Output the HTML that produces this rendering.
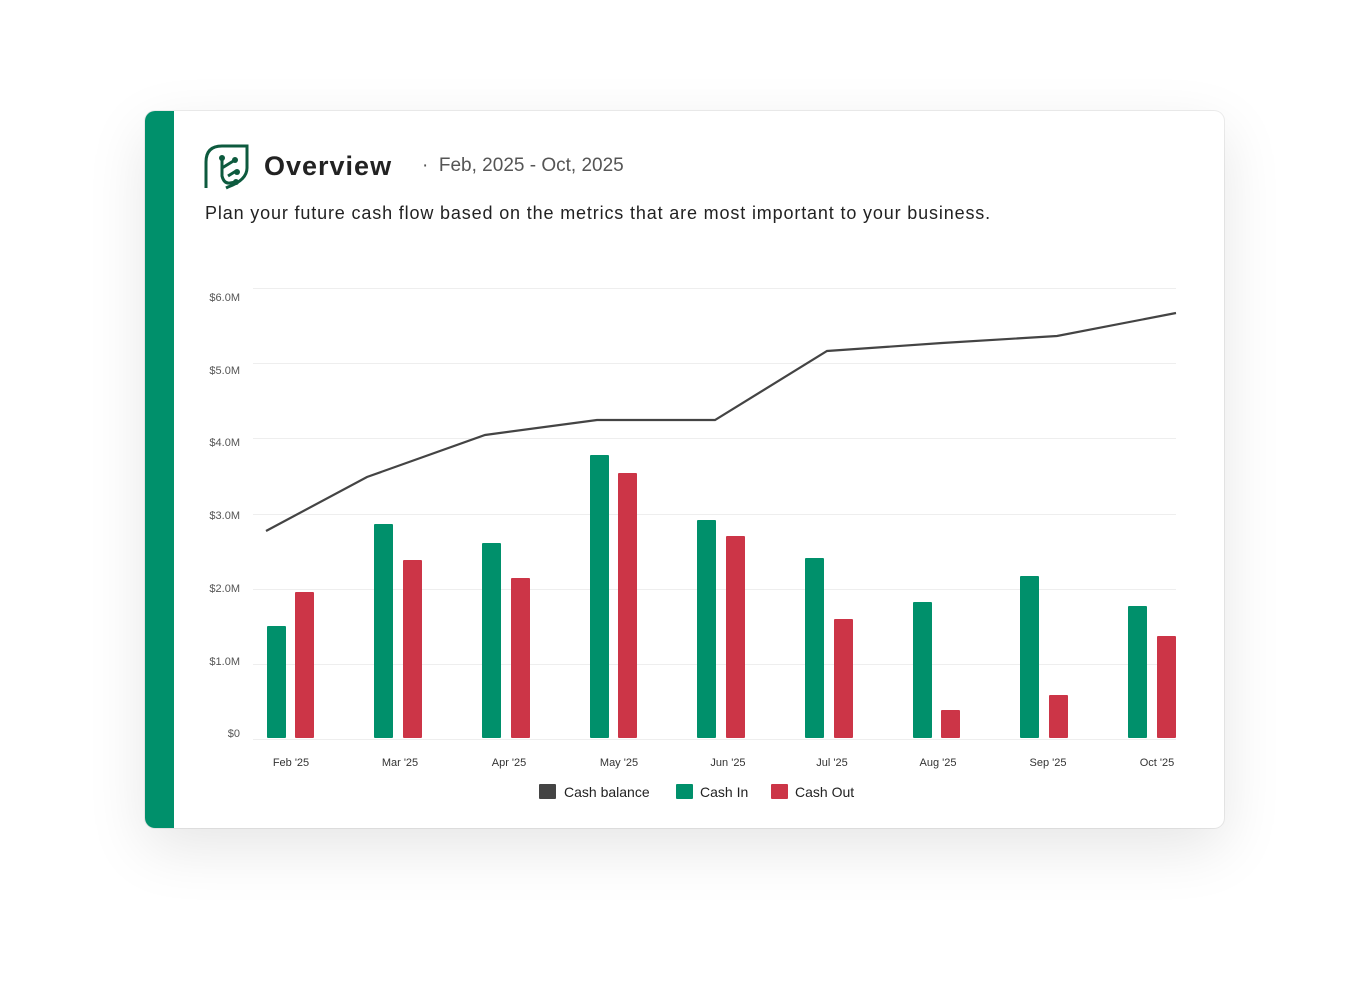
<!DOCTYPE html>
<html><head><meta charset="utf-8"><style>
body{margin:0;width:1370px;height:1007px;background:#fff;position:relative;overflow:hidden;font-family:"Liberation Sans",sans-serif}
.card{position:absolute;left:145px;top:111px;width:1079px;height:717px;background:#fff;border-radius:10px;box-shadow:0 20px 60px rgba(0,0,0,0.10),0 0 0 1px #eee;overflow:hidden}
.bar{position:absolute;left:0;top:0;width:29px;height:717px;background:#00906b}
.t{position:absolute;white-space:nowrap}
</style></head><body>
<div class="card"><div class="bar"></div></div>
<svg width="1370" height="1007" style="position:absolute;left:0;top:0">
<path d="M206,188 V162 Q206,146 222,146 H247 V168 Q247,180 228,187 L226,188" fill="none" stroke="#0d5a3e" stroke-width="3"/>
<path d="M222,158 V176 Q224,184 230,183 L236,182 M222,168 L235,160 M228,176 L236,171" fill="none" stroke="#0d5a3e" stroke-width="3"/>
<circle cx="222" cy="158" r="3" fill="#0d5a3e"/><circle cx="235" cy="160" r="3" fill="#0d5a3e"/><circle cx="237" cy="172" r="3" fill="#0d5a3e"/><circle cx="236" cy="182" r="3" fill="#0d5a3e"/>
<g stroke="#eee" stroke-width="1">
<line x1="253" x2="1176" y1="288.5" y2="288.5"/><line x1="253" x2="1176" y1="363.5" y2="363.5"/><line x1="253" x2="1176" y1="438.5" y2="438.5"/><line x1="253" x2="1176" y1="514.5" y2="514.5"/><line x1="253" x2="1176" y1="589.5" y2="589.5"/><line x1="253" x2="1176" y1="664.5" y2="664.5"/><line x1="253" x2="1176" y1="739.5" y2="739.5"/>
</g>
<g font-size="11" fill="#555" text-anchor="end" font-family="Liberation Sans,sans-serif">
<text x="240" y="301">$6.0M</text><text x="240" y="374">$5.0M</text><text x="240" y="446">$4.0M</text><text x="240" y="519">$3.0M</text><text x="240" y="592">$2.0M</text><text x="240" y="665">$1.0M</text><text x="240" y="737">$0</text>
</g>
<g fill="#00906b">
<rect x="267" y="626" width="19" height="112" rx="1"/><rect x="374" y="524" width="19" height="214" rx="1"/><rect x="482" y="543" width="19" height="195" rx="1"/><rect x="590" y="455" width="19" height="283" rx="1"/><rect x="697" y="520" width="19" height="218" rx="1"/><rect x="805" y="558" width="19" height="180" rx="1"/><rect x="913" y="602" width="19" height="136" rx="1"/><rect x="1020" y="576" width="19" height="162" rx="1"/><rect x="1128" y="606" width="19" height="132" rx="1"/>
</g>
<g fill="#cc3547">
<rect x="295" y="592" width="19" height="146" rx="1"/><rect x="403" y="560" width="19" height="178" rx="1"/><rect x="511" y="578" width="19" height="160" rx="1"/><rect x="618" y="473" width="19" height="265" rx="1"/><rect x="726" y="536" width="19" height="202" rx="1"/><rect x="834" y="619" width="19" height="119" rx="1"/><rect x="941" y="710" width="19" height="28" rx="1"/><rect x="1049" y="695" width="19" height="43" rx="1"/><rect x="1157" y="636" width="19" height="102" rx="1"/>
</g>
<polyline points="266,531 367,477 485,435 597,420 715,420 827,351 942,343 1057,336 1176,313" fill="none" stroke="#444" stroke-width="2.2"/>
<g font-size="11" fill="#333" text-anchor="middle" font-family="Liberation Sans,sans-serif">
<text x="291" y="766">Feb '25</text><text x="400" y="766">Mar '25</text><text x="509" y="766">Apr '25</text><text x="619" y="766">May '25</text><text x="728" y="766">Jun '25</text><text x="832" y="766">Jul '25</text><text x="938" y="766">Aug '25</text><text x="1048" y="766">Sep '25</text><text x="1157" y="766">Oct '25</text>
</g>
<rect x="539" y="784" width="17" height="15" fill="#444" rx="1"/>
<rect x="676" y="784" width="17" height="15" fill="#00906b" rx="1"/>
<rect x="771" y="784" width="17" height="15" fill="#cc3547" rx="1"/>
<g font-size="14" fill="#222" font-family="Liberation Sans,sans-serif">
<text x="564" y="797">Cash balance</text><text x="700" y="797">Cash In</text><text x="795" y="797">Cash Out</text>
</g>
</svg>
<div class="t" style="left:264px;top:151px;font-size:27px;font-weight:bold;color:#222;letter-spacing:1px">Overview</div>
<div class="t" style="left:422px;top:155px;font-size:19px;color:#555">·&nbsp; Feb, 2025 - Oct, 2025</div>
<div class="t" style="left:205px;top:203px;font-size:18px;color:#222;letter-spacing:0.85px">Plan your future cash flow based on the metrics that are most important to your business.</div>
</body></html>
